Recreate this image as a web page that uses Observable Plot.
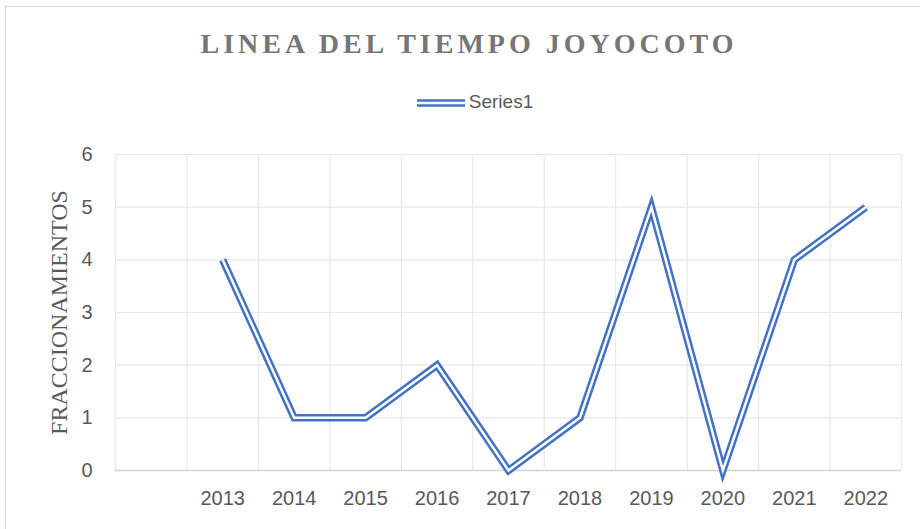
<!DOCTYPE html>
<html>
<head>
<meta charset="utf-8">
<script src="https://cdn.jsdelivr.net/npm/d3@7"></script>
<script src="https://cdn.jsdelivr.net/npm/@observablehq/plot@0.6"></script>
<style>
  html, body { margin: 0; padding: 0; background: #fff; overflow: hidden; }
  #wrap { position: relative; width: 920px; height: 529px; overflow: hidden; background: #fff; }
  #frame { position: absolute; left: 5px; top: 6px; width: 940px; height: 560px; border: 1px solid #d9d9d9; box-sizing: border-box; }
  #title { position: absolute; left: 0; width: 938px; top: 28px; text-align: center;
    font-family: "Liberation Serif", "Times New Roman", serif; font-weight: bold; font-size: 28px;
    letter-spacing: 4px; color: #767676; }
  #legend { position: absolute; top: 91px; left: 0; width: 950px; text-align: center;
    font-family: "Liberation Sans", Arial, sans-serif; font-size: 19px; color: #595959; }
  #legend svg { vertical-align: middle; margin-right: 4px; }
  #chart { position: absolute; left: 0; top: 120px; }
</style>
</head>
<body>
<div id="wrap">
  <div id="frame"></div>
  <div id="title">LINEA DEL TIEMPO JOYOCOTO</div>
  <div id="legend"><svg width="48" height="10"><line x1="0" x2="48" y1="5" y2="5" stroke="#4472C4" stroke-width="7.5"/><line x1="0" x2="48" y1="5" y2="5" stroke="#fff" stroke-width="2.5"/></svg>Series1</div>
  <div id="chart"></div>
</div>
<script>
const categories = ["", "2013", "2014", "2015", "2016", "2017", "2018", "2019", "2020", "2021", "2022"];
const values = [null, 4, 1, 1, 2, 0, 1, 5, 0, 4, 5];
const yTicks = [0, 1, 2, 3, 4, 5, 6];
const seriesName = "Series1";
const yLabel = "FRACCIONAMIENTOS";

const data = categories.map((c, i) => ({pos: i + 0.5, cat: c, value: values[i], series: seriesName}));
const boundaries = d3.range(categories.length + 1);
const blue = "#4472C4";

const chart = Plot.plot({
  width: 920,
  height: 409,
  marginTop: 34,
  marginBottom: 59,
  marginLeft: 115,
  marginRight: 19,
  x: {domain: [0, categories.length]},
  y: {domain: [0, 6]},
  style: {fontFamily: "Liberation Sans, Arial, sans-serif", background: "transparent", overflow: "visible"},
  marks: [
    Plot.ruleX(boundaries, {x: d => d, stroke: "#e8e8e8", strokeWidth: 1.2}),
    Plot.ruleY(yTicks.filter(d => d > 0), {y: d => d, stroke: "#e8e8e8", strokeWidth: 1.2}),
    Plot.ruleY([0], {stroke: "#d4d4d4", strokeWidth: 1.3}),
    Plot.axisY(yTicks, {tickSize: 0, tickPadding: 23, fontSize: 20, color: "#595959", label: null, tickFormat: d => String(d)}),
    Plot.axisY([], {label: yLabel, labelAnchor: "center", labelArrow: "none", labelOffset: 66,
      fontFamily: "Liberation Serif, Times New Roman, serif", fontSize: 24, color: "#595959", tickSize: 0}),
    Plot.axisX(data.map(d => d.pos), {tickSize: 0, tickPadding: 20, fontSize: 20, color: "#595959",
      tickFormat: p => categories[Math.floor(p)], label: null}),
    Plot.line(data, {x: "pos", y: "value", stroke: blue, strokeWidth: 7.5,
      strokeLinejoin: "miter", strokeLinecap: "butt", strokeMiterlimit: 12}),
    Plot.line(data, {x: "pos", y: "value", stroke: "#ffffff", strokeWidth: 2.5,
      strokeLinejoin: "miter", strokeLinecap: "butt", strokeMiterlimit: 12})
  ]
});
document.getElementById("chart").appendChild(chart);
</script>
</body>
</html>
